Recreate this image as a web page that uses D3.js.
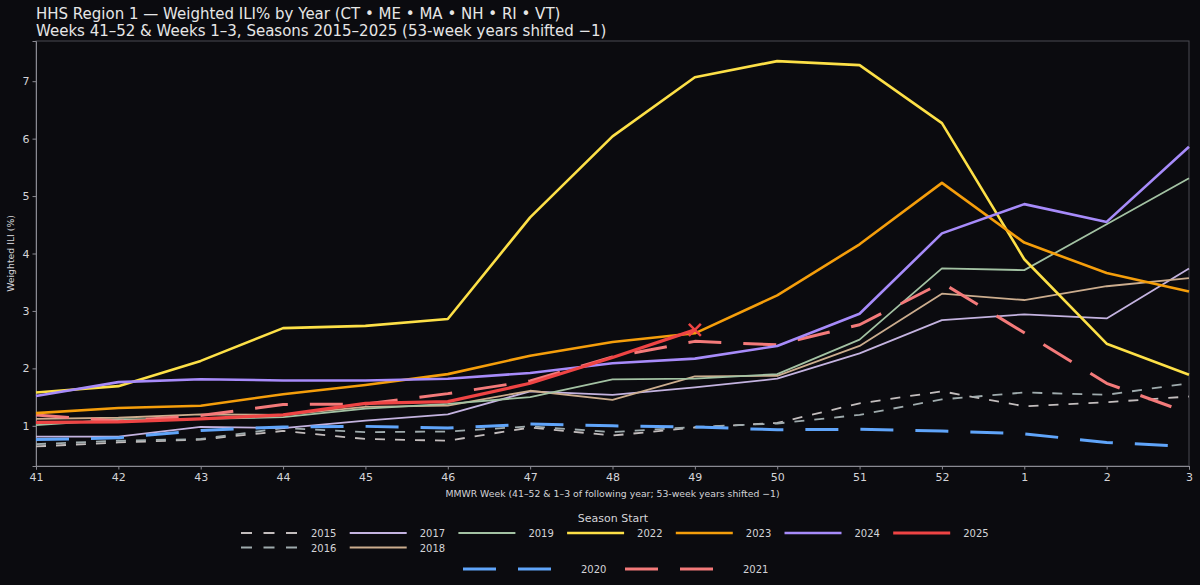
<!DOCTYPE html>
<html>
<head>
<meta charset="utf-8">
<script src="https://cdn.jsdelivr.net/npm/d3@7"></script>
<style>
  html, body { margin: 0; padding: 0; background: #0b0b0f; }
  svg { display: block; font-family: "DejaVu Sans", sans-serif; }
</style>
</head>
<body>
<svg id="chart" width="1200" height="585"></svg>
<script>
// week order on the x axis
const weeks = ['41', '42', '43', '44', '45', '46', '47', '48', '49', '50', '51', '52', '1', '2', '3'];
const yTicks = [1, 2, 3, 4, 5, 6, 7];

// weighted ILI % per season
const ili2015 = [0.64, 0.71, 0.76, 0.91, 0.77, 0.74, 0.97, 0.83, 0.97, 1.05, 1.39, 1.60, 1.34, 1.41, 1.51];
const ili2016 = [0.68, 0.74, 0.77, 0.96, 0.89, 0.90, 0.99, 0.89, 0.98, 1.04, 1.19, 1.46, 1.58, 1.54, 1.74];
const ili2017 = [0.81, 0.81, 0.98, 0.96, 1.09, 1.20, 1.60, 1.54, 1.67, 1.82, 2.26, 2.84, 2.94, 2.87, 3.74];
const ili2018 = [1.12, 1.14, 1.20, 1.19, 1.33, 1.35, 1.61, 1.45, 1.86, 1.87, 2.39, 3.30, 3.19, 3.43, 3.57];
const ili2019 = [1.01, 1.11, 1.12, 1.15, 1.30, 1.38, 1.50, 1.81, 1.82, 1.90, 2.50, 3.74, 3.71, 4.51, 5.31];
const ili2020 = [0.76, 0.79, 0.92, 0.98, 0.99, 0.96, 1.03, 1.00, 0.98, 0.93, 0.94, 0.91, 0.86, 0.71, 0.64];
const ili2021 = [1.19, 1.08, 1.18, 1.37, 1.38, 1.56, 1.78, 2.20, 2.47, 2.41, 2.76, 3.49, 2.62, 1.74, 1.22];
const ili2022 = [1.58, 1.69, 2.13, 2.70, 2.74, 2.86, 4.63, 6.04, 7.07, 7.35, 7.28, 6.27, 3.90, 2.43, 1.89];
const ili2023 = [1.22, 1.31, 1.35, 1.55, 1.71, 1.90, 2.22, 2.46, 2.61, 3.27, 4.16, 5.23, 4.19, 3.66, 3.34];
const ili2024 = [1.52, 1.76, 1.81, 1.79, 1.79, 1.82, 1.92, 2.09, 2.17, 2.39, 2.95, 4.35, 4.86, 4.55, 5.86];
const ili2025 = [1.06, 1.07, 1.12, 1.19, 1.39, 1.42, 1.74, 2.19, 2.67];

const seasons = [
  { name: '2015', values: ili2015, color: '#c3bdbd', width: 1.8, dash: '10,10', group: 0 },
  { name: '2016', values: ili2016, color: '#9fabad', width: 1.8, dash: '10,10', group: 0 },
  { name: '2017', values: ili2017, color: '#c4b3e0', width: 1.8, dash: null, group: 0 },
  { name: '2018', values: ili2018, color: '#ccad8e', width: 1.8, dash: null, group: 0 },
  { name: '2019', values: ili2019, color: '#a3c2a3', width: 1.8, dash: null, group: 0 },
  { name: '2020', values: ili2020, color: '#60a5fa', width: 3, dash: '33,22', group: 1 },
  { name: '2021', values: ili2021, color: '#f47a7a', width: 3, dash: '33,22', group: 1 },
  { name: '2022', values: ili2022, color: '#fde047', width: 2.6, dash: null, group: 0 },
  { name: '2023', values: ili2023, color: '#f59e0b', width: 2.6, dash: null, group: 0 },
  { name: '2024', values: ili2024, color: '#a78bfa', width: 2.6, dash: null, group: 0 },
  { name: '2025', values: ili2025, color: '#ef4444', width: 3.2, dash: null, group: 0 }
];

const svg = d3.select('#chart');
const margin = { left: 36, right: 11, top: 41, bottom: 119 };
const W = 1200, H = 585;

const x = d3.scalePoint()
  .domain(weeks)
  .range([margin.left, W - margin.right]);

const y = d3.scaleLinear()
  .domain([0.3, 7.7])
  .range([H - margin.bottom, margin.top]);

svg.append('rect')
  .attr('width', W)
  .attr('height', H)
  .attr('fill', '#0b0b0f');

// titles
svg.append('text')
  .attr('x', 36).attr('y', 19)
  .attr('fill', '#e6e6e6')
  .style('font-size', '15px')
  .text('HHS Region 1 — Weighted ILI% by Year (CT • ME • MA • NH • RI • VT)');
svg.append('text')
  .attr('x', 36).attr('y', 36)
  .attr('fill', '#e6e6e6')
  .style('font-size', '15px')
  .text('Weeks 41–52 & Weeks 1–3, Seasons 2015–2025 (53-week years shifted −1)');

// frame
svg.append('rect')
  .attr('x', margin.left)
  .attr('y', margin.top)
  .attr('width', W - margin.right - margin.left)
  .attr('height', H - margin.bottom - margin.top)
  .attr('fill', 'none')
  .attr('stroke', '#4a4a52')
  .attr('stroke-width', 1);

// axes
const xAxis = svg.append('g')
  .attr('transform', `translate(0,${H - margin.bottom})`)
  .call(d3.axisBottom(x).tickSize(3.5).tickPadding(4));
const yAxis = svg.append('g')
  .attr('transform', `translate(${margin.left},0)`)
  .call(d3.axisLeft(y).tickValues(yTicks).tickSize(3.5).tickPadding(3));

[xAxis, yAxis].forEach(ax => {
  ax.select('.domain').attr('stroke', '#8a8a92');
  ax.selectAll('.tick line').attr('stroke', '#8a8a92');
  ax.selectAll('.tick text')
    .attr('fill', '#d4d4d8')
    .style('font-size', '11px')
    .style('font-family', '"DejaVu Sans", sans-serif');
});

svg.append('text')
  .attr('x', (margin.left + W - margin.right) / 2)
  .attr('y', 497)
  .attr('text-anchor', 'middle')
  .attr('fill', '#d4d4d8')
  .style('font-size', '9.3px')
  .text('MMWR Week (41–52 & 1–3 of following year; 53-week years shifted −1)');

svg.append('text')
  .attr('transform', `translate(14,${(margin.top + H - margin.bottom) / 2}) rotate(-90)`)
  .attr('text-anchor', 'middle')
  .attr('fill', '#d4d4d8')
  .style('font-size', '9.3px')
  .text('Weighted ILI (%)');

// lines
const line = d3.line()
  .x((d, i) => x(weeks[i]))
  .y(d => y(d));

const plot = svg.append('g');
plot.selectAll('path.season')
  .data(seasons)
  .join('path')
    .attr('class', 'season')
    .attr('d', d => line(d.values))
    .attr('fill', 'none')
    .attr('stroke', d => d.color)
    .attr('stroke-width', d => d.width)
    .attr('stroke-dasharray', d => d.dash)
    .attr('stroke-linejoin', 'round');

// current season's latest point
const last = ili2025.length - 1;
const cx = x(weeks[last]), cy = y(ili2025[last]), r = 6;
plot.append('path')
  .attr('d', `M${cx - r},${cy - r}L${cx + r},${cy + r}M${cx - r},${cy + r}L${cx + r},${cy - r}`)
  .attr('stroke', '#ef4444')
  .attr('stroke-width', 2.5)
  .attr('fill', 'none');

// legend
const legend = svg.append('g');
legend.append('text')
  .attr('x', 613).attr('y', 522)
  .attr('text-anchor', 'middle')
  .attr('fill', '#d4d4d8')
  .style('font-size', '11px')
  .text('Season Start');

const mainItems = seasons.filter(s => s.group === 0);
const topRow = ['2015', '2017', '2019', '2022', '2023', '2024', '2025'];
const secondRow = ['2016', '2018'];

function legendPos(s) {
  let col = topRow.indexOf(s.name), row = 0;
  if (col < 0) { col = secondRow.indexOf(s.name); row = 1; }
  return { x: 241 + col * 108.7, y: 533 + row * 14.5 };
}

const mainLeg = legend.selectAll('g.main')
  .data(mainItems)
  .join('g')
    .attr('class', 'main')
    .attr('transform', d => {
      const p = legendPos(d);
      return `translate(${p.x},${p.y})`;
    });
mainLeg.append('line')
  .attr('x1', 0).attr('x2', 57)
  .attr('stroke', d => d.color)
  .attr('stroke-width', d => d.width)
  .attr('stroke-dasharray', d => d.dash ? '11,11.5' : null);
mainLeg.append('text')
  .attr('x', 70).attr('y', 4)
  .attr('fill', '#d4d4d8')
  .style('font-size', '10px')
  .text(d => d.name);

const dashItems = seasons.filter(s => s.group === 1);
const dashLeg = legend.selectAll('g.dash')
  .data(dashItems)
  .join('g')
    .attr('class', 'dash')
    .attr('transform', (d, i) => `translate(${463 + i * 162},569)`);
dashLeg.append('line')
  .attr('x1', 0).attr('x2', 90)
  .attr('stroke', d => d.color)
  .attr('stroke-width', d => d.width)
  .attr('stroke-dasharray', d => d.dash);
dashLeg.append('text')
  .attr('x', 118).attr('y', 4)
  .attr('fill', '#d4d4d8')
  .style('font-size', '10px')
  .text(d => d.name);
</script>
</body>
</html>
